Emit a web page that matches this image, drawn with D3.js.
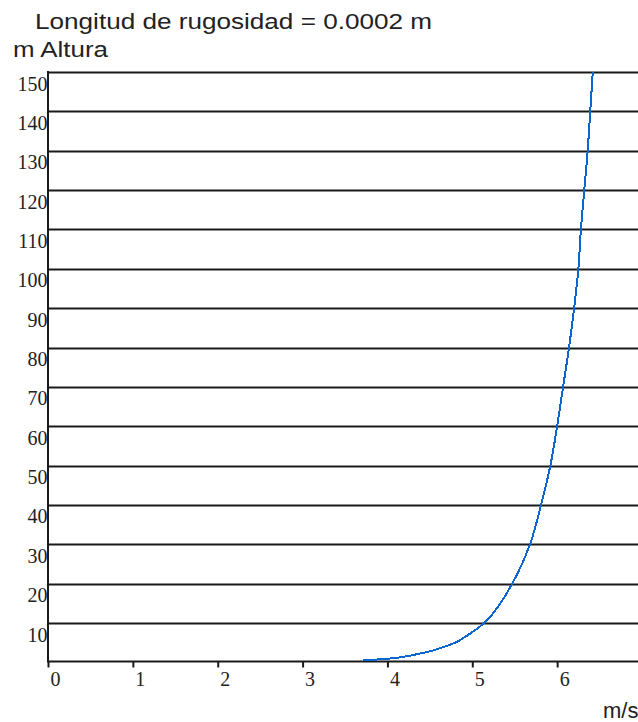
<!DOCTYPE html>
<html>
<head>
<meta charset="utf-8">
<script src="https://cdn.jsdelivr.net/npm/d3@7"></script>
<style>
  html, body { margin: 0; padding: 0; background: #fff; overflow: hidden; }
  svg { display: block; }
</style>
</head>
<body>
<svg id="chart" width="638" height="722"></svg>
<script>
// Wind speed profile over height (roughness length 0.0002 m)
const heights = [0.5, 1, 2, 3, 4, 5, 6, 8, 10, 15, 20, 30, 40, 50, 60, 70, 80, 90, 100, 110, 120, 130, 140, 150];
const speeds  = [3.71, 4.04, 4.33, 4.53, 4.67, 4.80, 4.88, 5.02, 5.14, 5.33, 5.47, 5.68, 5.81, 5.92, 6.00, 6.07, 6.14, 6.20, 6.25, 6.28, 6.32, 6.36, 6.39, 6.42];
const xTicks = [0, 1, 2, 3, 4, 5, 6];
const yTicks = [10, 20, 30, 40, 50, 60, 70, 80, 90, 100, 110, 120, 130, 140, 150];
const titleText = "Longitud de rugosidad = 0.0002 m";
const yAxisTitle = "m Altura";
const xAxisTitle = "m/s";

const svg = d3.select("#chart");
const W = 638;
const plotLeft = 48, plotTop = 72, plotBottom = 662.4, plotRight = 642;

const x = d3.scaleLinear().domain([0, 7]).range([plotLeft, plotRight]);
const y = d3.scaleLinear().domain([0, 150]).range([plotBottom, plotTop]);

const sans = "'Liberation Sans', Arial, sans-serif";
const serif = "'Liberation Serif', 'Times New Roman', serif";

// titles
svg.append("text")
  .attr("x", 35).attr("y", 29)
  .attr("font-family", sans).attr("font-size", 22).attr("fill", "#222")
  .attr("textLength", 397).attr("lengthAdjust", "spacingAndGlyphs")
  .text(titleText);
svg.append("text")
  .attr("x", 13).attr("y", 57)
  .attr("font-family", sans).attr("font-size", 22).attr("fill", "#222")
  .attr("textLength", 95).attr("lengthAdjust", "spacingAndGlyphs")
  .text(yAxisTitle);
svg.append("text")
  .attr("x", 603).attr("y", 718)
  .attr("font-family", sans).attr("font-size", 22).attr("fill", "#222")
  .text(xAxisTitle);

// horizontal gridlines
svg.append("g")
  .selectAll("line")
  .data(yTicks)
  .join("line")
  .attr("x1", plotLeft).attr("x2", W)
  .attr("y1", d => Math.round(y(d)) + 0.5).attr("y2", d => Math.round(y(d)) + 0.5)
  .attr("stroke", "#1a1a1a").attr("stroke-width", 2);

// y axis labels
svg.append("g")
  .selectAll("text")
  .data(yTicks)
  .join("text")
  .attr("x", 47.5)
  .attr("y", d => y(d) + 18.5)
  .attr("text-anchor", "end")
  .attr("font-family", serif).attr("font-size", 20).attr("fill", "#222")
  .text(d => d);

// x axis: ticks below the baseline
const xAxis = d3.axisBottom(x).tickValues(xTicks).tickSize(6).tickFormat(d3.format("d"));
const gx = svg.append("g")
  .attr("transform", `translate(0,${Math.round(plotBottom) - 0.5})`)
  .call(xAxis);
gx.select(".domain").remove();
gx.selectAll(".tick line").attr("stroke", "#1a1a1a").attr("stroke-width", 2)
  .attr("y1", 0).attr("y2", 6);
gx.selectAll(".tick text")
  .attr("font-family", serif).attr("font-size", 20).attr("fill", "#222")
  .attr("dx", 7).attr("y", 10).attr("dy", "0.71em");

// axis lines
svg.append("line")
  .attr("x1", plotLeft).attr("x2", W)
  .attr("y1", Math.round(plotBottom) - 0.5).attr("y2", Math.round(plotBottom) - 0.5)
  .attr("stroke", "#1a1a1a").attr("stroke-width", 2);
svg.append("line")
  .attr("x1", plotLeft).attr("x2", plotLeft)
  .attr("y1", plotTop - 1).attr("y2", Math.round(plotBottom) + 0.5)
  .attr("stroke", "#1a1a1a").attr("stroke-width", 2);

// speed profile
const pts = heights.map((h, i) => [speeds[i], h]);
const line = d3.line()
  .x(d => x(d[0]))
  .y(d => y(d[1]))
  .curve(d3.curveMonotoneY);
svg.append("path")
  .datum(pts)
  .attr("d", line)
  .attr("fill", "none")
  .attr("stroke", "#0b66d2")
  .attr("stroke-width", 2)
  .attr("shape-rendering", "crispEdges");
</script>
</body>
</html>
